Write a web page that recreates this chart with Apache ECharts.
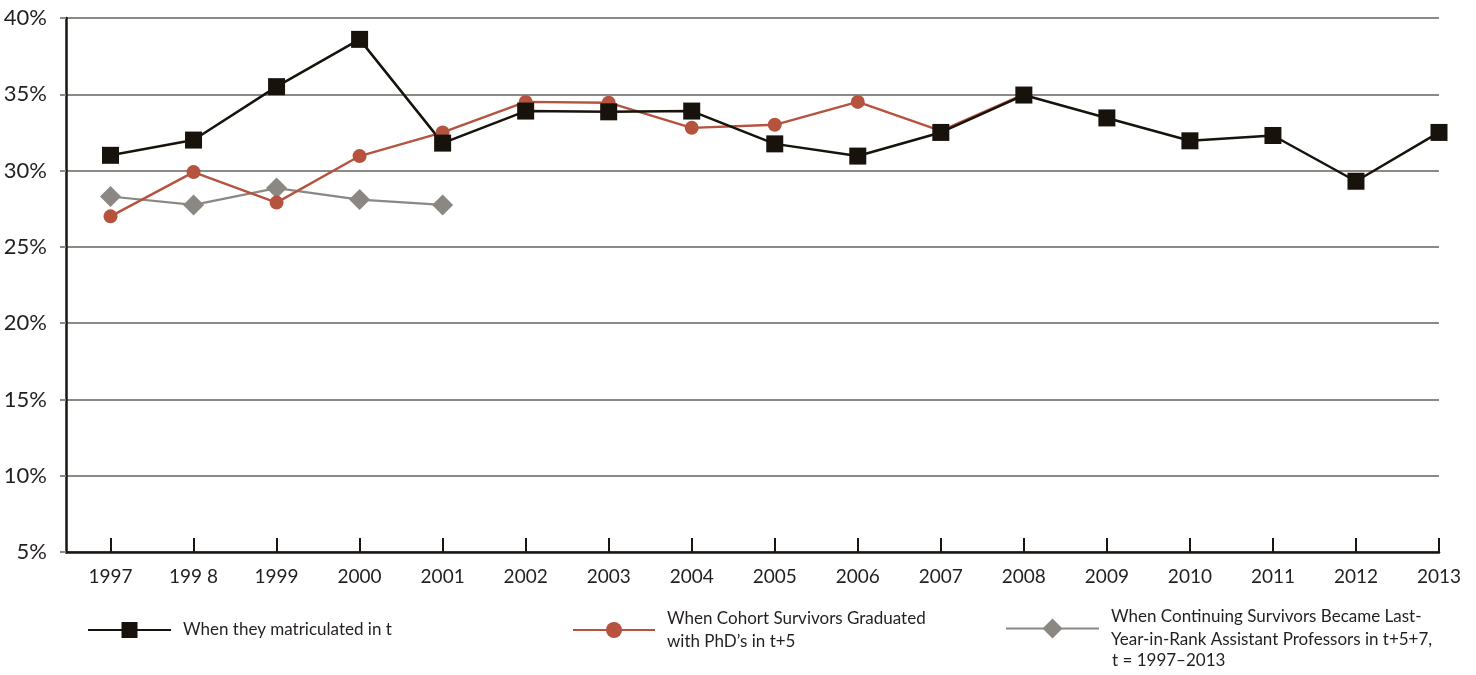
<!DOCTYPE html>
<html>
<head>
<meta charset="utf-8">
<script src="https://cdn.jsdelivr.net/npm/echarts@6/dist/echarts.min.js"></script>
<style>
html,body{margin:0;padding:0;background:#fff;}
#chart{width:1476px;height:675px;}
</style>
</head>
<body>
<div id="chart"></div>
<script>
const years = [1997,1998,1999,2000,2001,2002,2003,2004,2005,2006,2007,2008,2009,2010,2011,2012,2013];
const yearLabels = ['1997','199 8','1999','2000','2001','2002','2003','2004','2005','2006','2007','2008','2009','2010','2011','2012','2013'];
const matriculated = [31.0,32.0,35.5,38.6,31.8,33.9,33.85,33.9,31.75,30.95,32.5,34.95,33.45,31.95,32.3,29.3,32.5];
const graduated = [27.0,29.9,27.9,30.95,32.5,34.5,34.45,32.8,33.0,34.5,32.6,35.0];
const assistantProf = [28.3,27.75,28.85,28.1,27.75];
const seriesNames = [
  'When they matriculated in t',
  'When Cohort Survivors Graduated\nwith PhD\u2019s in t+5',
  'When Continuing Survivors Became Last-\nYear-in-Rank Assistant Professors in t+5+7,'
];
const legendExtraLine = 't = 1997\u20132013';
const yTicks = [5,10,15,20,25,30,35,40];

const pairs = (vals) => vals.map((v, i) => [years[i], v]);
const FONT = 'Lato';
const TXT = '#231f20';

const chart = echarts.init(document.getElementById('chart'), null, {renderer: 'canvas'});
const legendText = {fontFamily: FONT, fontSize: 17, color: TXT, lineHeight: 23, padding: [0, 0, 0, 7]};
chart.setOption({
  animation: false,
  backgroundColor: '#fff',
  grid: {left: 66, right: 37, top: 18, bottom: 123, containLabel: false},
  xAxis: {
    type: 'value',
    min: 1996.464,
    max: 2013,
    splitLine: {show: false},
    axisLine: {show: true, lineStyle: {color: '#1a1510', width: 2.5}},
    axisTick: {show: true, inside: true, length: 14, customValues: years, lineStyle: {color: '#1a1510', width: 2}},
    axisLabel: {
      customValues: years,
      margin: 15,
      fontFamily: FONT, fontSize: 19, color: TXT,
      formatter: (v) => yearLabels[years.indexOf(Math.round(v))] || ''
    }
  },
  yAxis: {
    type: 'value',
    min: 5, max: 40, interval: 5,
    axisLine: {show: true, lineStyle: {color: '#1a1510', width: 2.5}},
    axisTick: {show: true, length: 6, lineStyle: {color: '#8c8a87', width: 2}},
    splitLine: {show: true, lineStyle: {color: '#8c8a87', width: 2}},
    axisLabel: {margin: 19, fontFamily: FONT, fontSize: 22, color: TXT, formatter: (v) => v + '%'}
  },
  legend: [
    {data: [seriesNames[0]], left: 87, top: 618.5, padding: 0, itemWidth: 83, itemHeight: 20, textStyle: legendText, selectedMode: false},
    {data: [seriesNames[1]], left: 572, top: 607, padding: 0, itemWidth: 82, itemHeight: 20, textStyle: legendText, selectedMode: false},
    {data: [seriesNames[2]], left: 1005, top: 605.5, padding: 0, itemWidth: 93, itemHeight: 25, textStyle: legendText, selectedMode: false}
  ],
  graphic: [
    {type: 'text', left: 1112, top: 652, style: {text: legendExtraLine, fontFamily: FONT, fontSize: 17, fill: TXT}}
  ],
  series: [
    {
      name: seriesNames[2], type: 'line', data: pairs(assistantProf),
      symbol: 'diamond', symbolSize: 21,
      lineStyle: {color: '#8b8883', width: 2.2},
      itemStyle: {color: '#8b8883'}
    },
    {
      name: seriesNames[1], type: 'line', data: pairs(graduated),
      symbol: 'circle', symbolSize: 14,
      lineStyle: {color: '#b5533f', width: 2.4},
      itemStyle: {color: '#b5533f'}
    },
    {
      name: seriesNames[0], type: 'line', data: pairs(matriculated),
      symbol: 'rect', symbolSize: 17,
      lineStyle: {color: '#17130c', width: 2.5},
      itemStyle: {color: '#17130c'}
    }
  ]
});
</script>
</body>
</html>
